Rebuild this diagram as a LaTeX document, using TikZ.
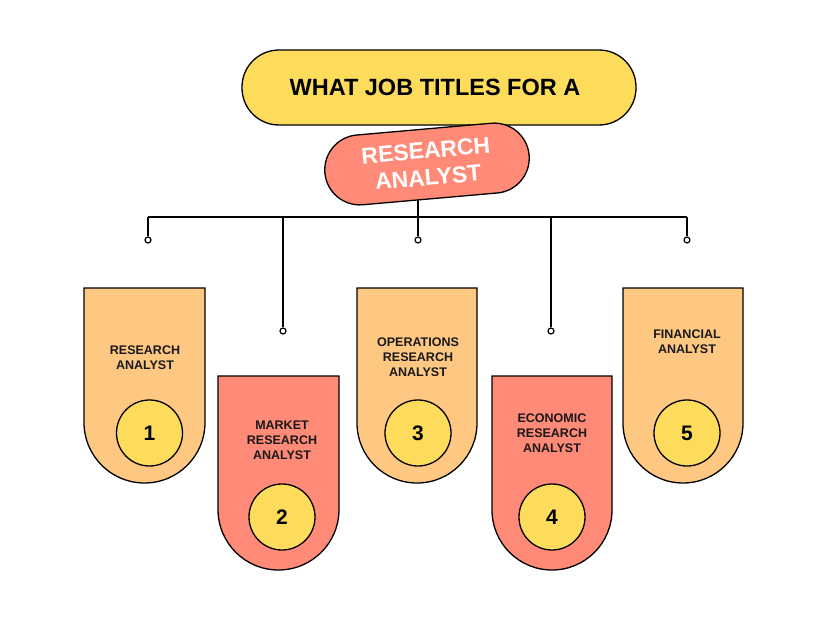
\documentclass[tikz,border=0pt]{standalone}
\usepackage{fontspec}
\setmainfont{Liberation Sans}
\usetikzlibrary{backgrounds}
\definecolor{ttlyellow}{HTML}{FDDC5C}
\definecolor{cardorange}{HTML}{FEC882}
\definecolor{cardsalmon}{HTML}{FF8A77}
\begin{document}
\begin{tikzpicture}[x=1pt,y=-1pt,
  outl/.style={draw=black,line width=1.3pt},
  titlepill/.style={outl,fill=ttlyellow,rounded corners=37pt,minimum width=394pt,minimum height=75pt,
    font=\fontsize{23.5}{26}\selectfont\bfseries,text=black,inner sep=0pt},
  subpill/.style={outl,fill=cardsalmon,rounded corners=35pt,minimum width=205pt,minimum height=70pt,
    font=\fontsize{23}{27}\selectfont\bfseries,text=white,align=center,inner sep=0pt,rotate=5},
  cardO/.style={outl,fill=cardorange},
  cardS/.style={outl,fill=cardsalmon},
  lab/.style={font=\fontsize{12.5}{15}\selectfont\bfseries,align=center,text=black!90,inner sep=0pt},
  numc/.style={outl,circle,fill=ttlyellow,minimum size=66pt,inner sep=0pt,font=\fontsize{21}{24}\selectfont\bfseries},
  conn/.style={draw=black,line width=1.5pt},
  endc/.style={circle,draw=black,line width=1.2pt,fill=white,minimum size=6pt,inner sep=0pt}]
\useasboundingbox (0,0) rectangle (828,621);

% header
\node[titlepill] (title) at (439,87.5) {WHAT JOB TITLES FOR A\hspace*{8pt}};
\node[subpill] (sub) at (427,164) {RESEARCH\\ANALYST};

% connector bar coordinates
\coordinate (b1) at (148,217);
\coordinate (b2) at (283,217);
\coordinate (b3) at (418,217);
\coordinate (b4) at (551,217);
\coordinate (b5) at (687,217);
\node[endc] (e1) at (148,240) {};
\node[endc] (e2) at (283,331) {};
\node[endc] (e3) at (418,240) {};
\node[endc] (e4) at (551,331) {};
\node[endc] (e5) at (687,240) {};

\begin{scope}[on background layer]
\fill[white] (0,0) rectangle (828,621);
\draw[conn] (sub.center -| b3) -- (b3);
\draw[conn] (b1) -- (b5);
\draw[conn] (b1) -- (e1);
\draw[conn] (b2) -- (e2);
\draw[conn,line width=2.4pt] (b3) -- (e3);
\draw[conn] (b4) -- (e4);
\draw[conn] (b5) -- (e5);
\end{scope}

% cards
\path[cardO] (84,288) -- (84,422.5) arc[start angle=180,end angle=0,radius=60.5] -- (205,288) -- cycle;
\path[cardS] (218,376) -- (218,509.5) arc[start angle=180,end angle=0,radius=60.5] -- (339,376) -- cycle;
\path[cardO] (357,288) -- (357,423) arc[start angle=180,end angle=0,radius=60] -- (477,288) -- cycle;
\path[cardS] (492,376) -- (492,510) arc[start angle=180,end angle=0,radius=60] -- (612,376) -- cycle;
\path[cardO] (623,288) -- (623,423) arc[start angle=180,end angle=0,radius=60] -- (743,288) -- cycle;

% labels
\node[lab] (t1) at (145,357.5) {RESEARCH\\ANALYST};
\node[lab] (t2) at (282,440) {MARKET\\RESEARCH\\ANALYST};
\node[lab] (t3) at (418,357) {OPERATIONS\\RESEARCH\\ANALYST};
\node[lab] (t4) at (552,433.5) {ECONOMIC\\RESEARCH\\ANALYST};
\node[lab] (t5) at (687,342) {FINANCIAL\\ANALYST};

% numbers
\node[numc] (n1) at (149.5,433) {1};
\node[numc] (n2) at (282,517) {2};
\node[numc] (n3) at (418,433) {3};
\node[numc] (n4) at (552,517) {4};
\node[numc] (n5) at (687,433) {5};
\end{tikzpicture}
\end{document}
